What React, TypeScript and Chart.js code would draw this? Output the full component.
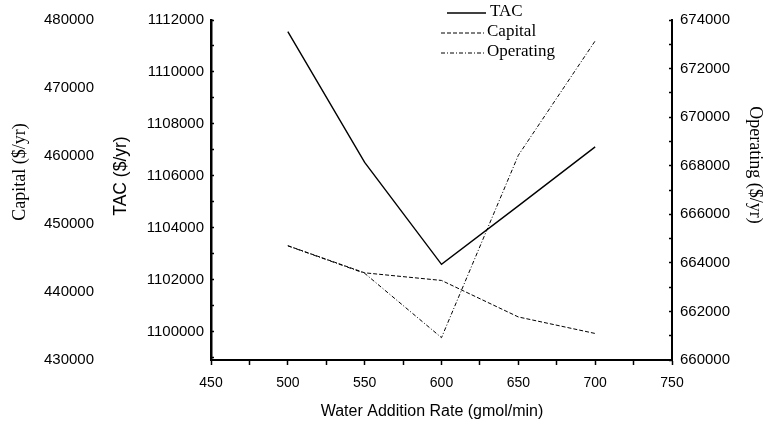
import React, { useEffect, useRef } from 'react';
import { Chart, registerables } from 'chart.js';

Chart.register(...registerables);

// ---- data ----
const waterRate = [500, 550, 600, 650, 700];
const tacValues = [1111550, 1106520, 1102600, 1104850, 1107120];
const capitalValues = [446810, 442820, 441700, 436330, 433900];
const operatingValues = [664700, 663570, 660920, 668430, 673140];

const xTickLabels = [450, 500, 550, 600, 650, 700, 750];
const capitalTickLabels = [430000, 440000, 450000, 460000, 470000, 480000];
const tacTickLabels = [1100000, 1102000, 1104000, 1106000, 1108000, 1110000, 1112000];
const operatingTickLabels = [660000, 662000, 664000, 666000, 668000, 670000, 672000, 674000];

const xTitle = 'Water Addition Rate (gmol/min)';
const capitalTitle = 'Capital ($/yr)';
const tacTitle = 'TAC ($/yr)';
const operatingTitle = 'Operating ($/yr)';

const SANS = '"Liberation Sans", Arial, sans-serif';
const SERIF = '"Liberation Serif", "Times New Roman", serif';

const legendPlugin = {
  id: 'customLegend',
  afterDraw(chart: any, _args: any, opts: any) {
    const ctx = chart.ctx;
    const rows = opts.rows || [];
    ctx.save();
    chart.data.datasets.forEach((ds: any, i: number) => {
      const r = rows[i];
      if (!r) return;
      ctx.beginPath();
      ctx.strokeStyle = ds.borderColor;
      ctx.lineWidth = ds.borderWidth;
      ctx.setLineDash(ds.borderDash || []);
      ctx.moveTo(r.x0, r.y);
      ctx.lineTo(r.x1, r.y);
      ctx.stroke();
      ctx.setLineDash([]);
      ctx.fillStyle = '#000';
      ctx.font = `17px ${SERIF}`;
      ctx.textAlign = 'left';
      ctx.textBaseline = 'middle';
      ctx.fillText(ds.label, r.tx, r.ty);
    });
    ctx.restore();
  },
};

const axisTitlePlugin = {
  id: 'axisTitles',
  afterDraw(chart: any, _args: any, opts: any) {
    const ctx = chart.ctx;
    (opts.titles || []).forEach((t: any) => {
      ctx.save();
      ctx.translate(t.x, t.y);
      ctx.rotate(t.rot);
      ctx.fillStyle = '#000';
      ctx.font = t.font;
      ctx.textAlign = 'center';
      ctx.textBaseline = 'middle';
      ctx.fillText(t.text, 0, 0);
      ctx.restore();
    });
  },
};

const stepTicks = (min: number, max: number, step: number) => {
  const out: { value: number }[] = [];
  for (let v = Math.ceil(min / step) * step; v <= max; v += step) out.push({ value: v });
  return out;
};

export default function App() {
  const ref = useRef<HTMLCanvasElement | null>(null);

  useEffect(() => {
    if (!ref.current) return;
    Chart.defaults.font.family = SANS;
    Chart.defaults.color = '#000';
    const toPts = (vals: number[]) => waterRate.map((x, i) => ({ x, y: vals[i] }));
    const chart = new Chart(ref.current, {
      type: 'line',
      data: {
        datasets: [
          {
            label: 'TAC',
            data: toPts(tacValues),
            yAxisID: 'yTAC',
            borderColor: '#000',
            borderWidth: 1.4,
            pointRadius: 0,
            tension: 0,
          },
          {
            label: 'Capital',
            data: toPts(capitalValues),
            yAxisID: 'yCap',
            borderColor: '#000',
            borderWidth: 1,
            borderDash: [4, 2],
            pointRadius: 0,
            tension: 0,
          },
          {
            label: 'Operating',
            data: toPts(operatingValues),
            yAxisID: 'yOp',
            borderColor: '#000',
            borderWidth: 1,
            borderDash: [4, 2, 1, 2],
            pointRadius: 0,
            tension: 0,
          },
        ],
      },
      options: {
        animation: false,
        responsive: true,
        maintainAspectRatio: false,
        layout: { padding: { top: 18, left: 0, right: 0, bottom: 0 } },
        plugins: {
          legend: { display: false },
          tooltip: { enabled: false },
          customLegend: {
            rows: [
              { x0: 447, x1: 486, y: 13, tx: 490, ty: 12 },
              { x0: 441, x1: 484, y: 33, tx: 487, ty: 32 },
              { x0: 441, x1: 484, y: 53, tx: 487, ty: 52 },
            ],
          },
          axisTitles: {
            titles: [
              { text: xTitle, x: 432, y: 412, rot: 0, font: `16px ${SANS}` },
              { text: capitalTitle, x: 20, y: 172, rot: -Math.PI / 2, font: `18px ${SERIF}` },
              { text: tacTitle, x: 121, y: 176, rot: -Math.PI / 2, font: `17.5px ${SANS}` },
              { text: operatingTitle, x: 755, y: 165, rot: Math.PI / 2, font: `18px ${SERIF}` },
            ],
          },
        } as any,
        scales: {
          x: {
            type: 'linear',
            position: 'bottom',
            min: 450,
            max: 750,
            afterBuildTicks: (s: any) => {
              s.ticks = stepTicks(450, 750, 25);
            },
            ticks: {
              autoSkip: false,
              maxRotation: 0,
              padding: 9.5,
              color: '#000',
              font: { family: SANS, size: 14 },
              callback: (v: any) => (xTickLabels.includes(Number(v)) ? String(v) : ''),
            },
            grid: { display: true, drawOnChartArea: false, tickLength: 5, tickColor: '#000', tickWidth: 1.5 },
            border: { display: true, color: '#000', width: 2 },
            title: { display: false },
            afterFit: (s: any) => {
              s.height = 64;
            },
          },
          yCap: {
            type: 'linear',
            position: 'left',
            weight: 2,
            min: 430000,
            max: 480000,
            afterBuildTicks: (s: any) => {
              s.ticks = capitalTickLabels.map((v) => ({ value: v }));
            },
            ticks: {
              autoSkip: false,
              padding: 4,
              color: '#000',
              font: { family: SANS, size: 15 },
              callback: (v: any) => String(v),
            },
            grid: { display: false, drawTicks: false },
            border: { display: false },
            title: { display: false },
            afterFit: (s: any) => {
              s.width = 98;
            },
          },
          yTAC: {
            type: 'linear',
            position: 'left',
            weight: 1,
            min: 1098920,
            max: 1112000,
            afterBuildTicks: (s: any) => {
              s.ticks = stepTicks(1098920, 1112000, 1000);
            },
            ticks: {
              autoSkip: false,
              padding: 10,
              color: '#000',
              font: { family: SANS, size: 15 },
              callback: (v: any) => (tacTickLabels.includes(Number(v)) ? String(v) : ''),
            },
            grid: { display: true, drawOnChartArea: false, tickLength: -3, tickColor: '#000', tickWidth: 1.5 },
            border: { display: true, color: '#000', width: 2.5 },
            title: { display: false },
            afterFit: (s: any) => {
              s.width = 113;
            },
          },
          yOp: {
            type: 'linear',
            position: 'right',
            min: 660000,
            max: 674000,
            afterBuildTicks: (s: any) => {
              s.ticks = stepTicks(660000, 674000, 1000);
            },
            ticks: {
              autoSkip: false,
              padding: 11,
              color: '#000',
              font: { family: SANS, size: 15 },
              callback: (v: any) => (operatingTickLabels.includes(Number(v)) ? String(v) : ''),
            },
            grid: { display: true, drawOnChartArea: false, tickLength: -3, tickColor: '#000', tickWidth: 1.5 },
            border: { display: true, color: '#000', width: 2 },
            title: { display: false },
            afterFit: (s: any) => {
              s.width = 91;
            },
          },
        } as any,
      },
      plugins: [legendPlugin, axisTitlePlugin],
    });
    return () => chart.destroy();
  }, []);

  return (
    <div style={{ position: 'absolute', left: 0, top: 0, width: 763, height: 424, background: '#fff' }}>
      <canvas ref={ref} />
    </div>
  );
}
